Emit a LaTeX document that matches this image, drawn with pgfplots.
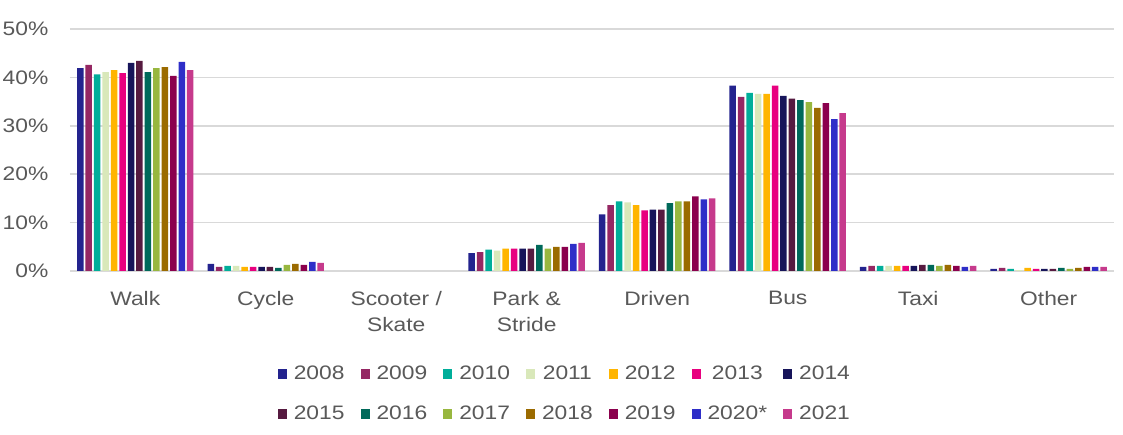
\documentclass[border=0pt]{standalone}
\usepackage{pgfplots}
\usepackage{pgfplotstable}
\pgfplotsset{compat=1.18}
\usepackage{fontspec}
\setmainfont{Liberation Sans}[FakeStretch=1.17]
\definecolor{txt}{HTML}{595959}
\definecolor{grd}{HTML}{D9D9D9}
\definecolor{c08}{HTML}{23238E}
\definecolor{c09}{HTML}{952763}
\definecolor{c10}{HTML}{00AE9A}
\definecolor{c11}{HTML}{D9E8BA}
\definecolor{c12}{HTML}{FFB500}
\definecolor{c13}{HTML}{E8007F}
\definecolor{c14}{HTML}{17155A}
\definecolor{c15}{HTML}{561A40}
\definecolor{c16}{HTML}{00695A}
\definecolor{c17}{HTML}{98B73F}
\definecolor{c18}{HTML}{9B6B00}
\definecolor{c19}{HTML}{8B004D}
\definecolor{c20}{HTML}{2E2EC8}
\definecolor{c21}{HTML}{C63A8C}
\pgfplotstableread{
x a08 a09 a10 a11 a12 a13 a14 a15 a16 a17 a18 a19 a20 a21
0 41.9 42.6 40.6 41.1 41.5 40.9 43.0 43.4 41.1 41.9 42.1 40.3 43.2 41.5
1 1.45 0.83 1.04 1.04 0.83 0.83 0.83 0.83 0.62 1.25 1.45 1.25 1.87 1.66
2 0 0 0 0 0 0 0 0 0 0 0 0 0 0
3 3.7 3.9 4.4 4.2 4.6 4.6 4.6 4.6 5.4 4.6 5.0 5.0 5.6 5.8
4 11.7 13.6 14.4 14.2 13.6 12.5 12.7 12.7 14.0 14.4 14.4 15.4 14.8 15.0
5 38.3 36.0 36.8 36.6 36.6 38.3 36.2 35.6 35.3 34.9 33.7 34.7 31.4 32.6
6 0.83 1.04 1.04 1.04 1.04 1.04 1.04 1.25 1.25 1.04 1.25 1.04 0.83 1.04
7 0.42 0.62 0.42 0.2 0.62 0.42 0.42 0.42 0.62 0.42 0.62 0.83 0.83 0.83
}\data
\begin{document}
\fontsize{19.5}{26}\selectfont
\begin{tikzpicture}
\begin{axis}[
  at={(70pt,164pt)}, anchor=south west,
  scale only axis, width=1044pt, height=242pt,
  xmin=-0.5, xmax=7.5, ymin=0, ymax=50,
  ybar=1.96pt, bar width=6.5pt,
  xtick={0,...,7},
  xticklabels={Walk,Cycle,{Scooter /\\Skate},{Park \&\\Stride},Driven,Bus,Taxi,Other},
  xticklabel style={align=center, text=txt, font=\fontsize{19.5}{26}\selectfont, yshift=-9pt},
  ytick={0,10,20,30,40,50},
  yticklabel={\pgfmathprintnumber{\tick}\%},
  yticklabel style={text=txt, font=\fontsize{19.5}{26}\selectfont, xshift=-15pt},
  /pgf/number format/assume math mode=true,
  ymajorgrids, grid style={grd, line width=1.5pt},
  axis line style={draw=none},
  tick style={draw=none},
  unbounded coords=discard,
  y filter/.expression={y==0 ? nan : y},
  legend columns=7,
  legend style={at={(0.474,-0.508)}, anchor=center, draw=none, fill=none,
    font=\fontsize{19.5}{26}\selectfont, text=txt,
    /tikz/every odd column/.append style={column sep=5pt},
    /tikz/every even column/.append style={column sep=14pt},
    row sep=19pt},
  legend image code/.code={\fill[#1] (0pt,-5pt) rectangle (9pt,5pt);},
]
\addplot[fill=c08, draw=none] table[x=x,y=a08]{\data};
\addplot[fill=c09, draw=none] table[x=x,y=a09]{\data};
\addplot[fill=c10, draw=none] table[x=x,y=a10]{\data};
\addplot[fill=c11, draw=none] table[x=x,y=a11]{\data};
\addplot[fill=c12, draw=none] table[x=x,y=a12]{\data};
\addplot[fill=c13, draw=none] table[x=x,y=a13]{\data};
\addplot[fill=c14, draw=none] table[x=x,y=a14]{\data};
\addplot[fill=c15, draw=none] table[x=x,y=a15]{\data};
\addplot[fill=c16, draw=none] table[x=x,y=a16]{\data};
\addplot[fill=c17, draw=none] table[x=x,y=a17]{\data};
\addplot[fill=c18, draw=none] table[x=x,y=a18]{\data};
\addplot[fill=c19, draw=none] table[x=x,y=a19]{\data};
\addplot[fill=c20, draw=none] table[x=x,y=a20]{\data};
\addplot[fill=c21, draw=none] table[x=x,y=a21]{\data};
\legend{2008,2009,2010,2011,2012,2013,2014,2015,2016,2017,2018,2019,2020*,2021}
\end{axis}
\pgfresetboundingbox
\path[use as bounding box] (0pt,0pt) rectangle (1123pt,435pt);
\end{tikzpicture}
\end{document}
